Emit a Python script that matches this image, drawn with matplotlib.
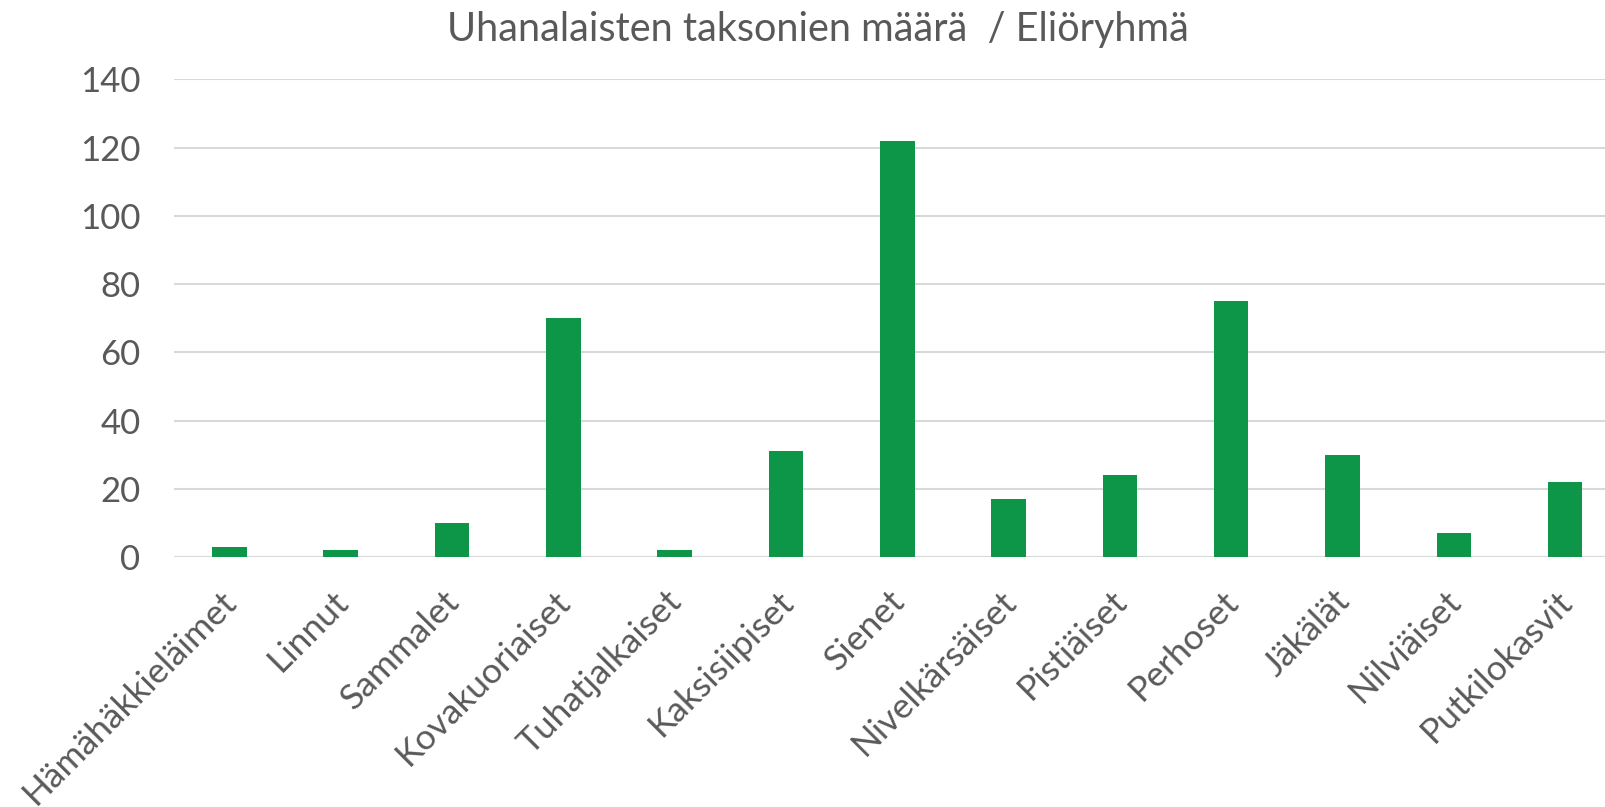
"""
Uhanalaisten taksonien määrä eliöryhmittäin - pylväskaavio.
"""

import matplotlib.pyplot as plt
import matplotlib.transforms as mtransforms
import numpy as np

# data
groups = ['Hämähäkkieläimet', 'Linnut', 'Sammalet', 'Kovakuoriaiset',
          'Tuhatjalkaiset', 'Kaksisiipiset', 'Sienet', 'Nivelkärsäiset',
          'Pistiäiset', 'Perhoset', 'Jäkälät', 'Nilviäiset', 'Putkilokasvit']
counts = [3, 2, 10, 70, 2, 31, 122, 17, 24, 75, 30, 7, 22]
y_ticks = [0, 20, 40, 60, 80, 100, 120, 140]
title = 'Uhanalaisten taksonien määrä  / Eliöryhmä'

text_color = '#595959'
grid_color = '#D9D9D9'
bar_color = '#0E9648'

plt.rcParams['font.family'] = ['Lato', 'DejaVu Sans']

fig = plt.figure(figsize=(16.06, 8.07), dpi=100)
# the chart area runs a little past the right edge of the picture
ax = fig.add_axes([0.1082, 0.3098, 0.901, 0.5917])

xvals = np.arange(len(groups))
ax.bar(xvals, counts, width=0.31, color=bar_color, zorder=3)

ax.set_xlim(-0.5, len(groups) - 0.5)
ax.set_ylim(0, 140)
ax.set_yticks(y_ticks)
ax.yaxis.grid(True, color=grid_color, linewidth=1.5, zorder=0)
ax.set_axisbelow(True)
for side in ['top', 'right', 'left', 'bottom']:
    ax.spines[side].set_visible(False)
ax.axhline(0, color=grid_color, linewidth=1.5, zorder=1)

ax.tick_params(axis='y', length=0, pad=24, labelsize=25, labelcolor=text_color)
ax.tick_params(axis='x', length=0, pad=20, labelsize=25.5, labelcolor=text_color)
ax.set_xticks(xvals)
ax.set_xticklabels(groups, rotation=45, ha='right', va='top',
                   rotation_mode='anchor')
# nudge rotated labels so their ends sit under the bars like in the original
shift = mtransforms.ScaledTranslation(-9 / 100, 0, fig.dpi_scale_trans)
for label in ax.get_xticklabels():
    label.set_transform(label.get_transform() + shift)

fig.text(0.509, 0.963, title, ha='center', va='center', fontsize=28.5,
         color=text_color)

fig.savefig('out.png', dpi=100)
